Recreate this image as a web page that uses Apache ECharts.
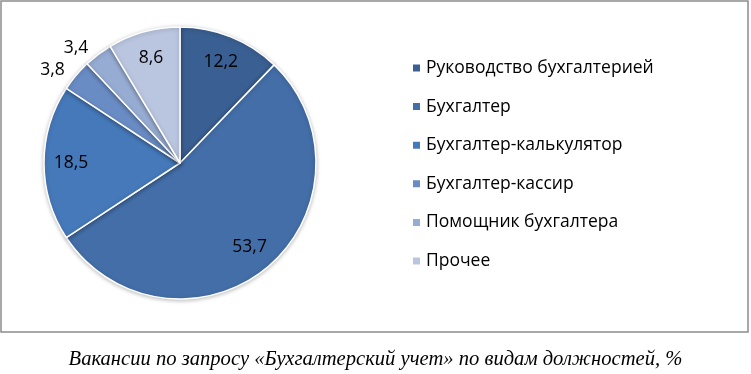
<!DOCTYPE html>
<html>
<head>
<meta charset="utf-8">
<script src="https://cdn.jsdelivr.net/npm/echarts@6/dist/echarts.min.js"></script>
<style>
  html, body { margin: 0; padding: 0; background: #fff; }
  #chart { width: 751px; height: 374px; }
</style>
</head>
<body>
<div id="chart"></div>
<script>
const categories = ['Руководство бухгалтерией', 'Бухгалтер', 'Бухгалтер-калькулятор', 'Бухгалтер-кассир', 'Помощник бухгалтера', 'Прочее'];
const values = [12.2, 53.7, 18.5, 3.8, 3.4, 8.6];
const colors = ['#3a5f92', '#436ea8', '#4679ba', '#6a8cc4', '#97acd3', '#bac6e0'];
const caption = 'Вакансии по запросу «Бухгалтерский учет» по видам должностей, %';

const fmt = v => String(v).replace('.', ',');

// small slices get their label outside the pie, like in the original
const pieData = categories.map((name, i) => ({
  name: name,
  value: values[i],
  itemStyle: { color: colors[i] }
}));
const labelData = categories.map((name, i) => ({
  name: name,
  value: values[i],
  label: values[i] < 5 ? { position: 'outside' } : { position: 'inside' }
}));

const chart = echarts.init(document.getElementById('chart'));
chart.setOption({
  animation: false,
  title: {
    text: caption,
    left: 'center',
    top: 344,
    textStyle: {
      fontFamily: 'Liberation Serif',
      fontStyle: 'italic',
      fontWeight: 'normal',
      fontSize: 20.6,
      color: '#000'
    }
  },
  graphic: [{
    type: 'rect',
    shape: { x: 1, y: 1, width: 747, height: 331 },
    style: { fill: 'none', stroke: '#8c8c8c', lineWidth: 1.5 },
    silent: true
  }],
  legend: {
    orient: 'vertical',
    left: 406,
    top: 54,
    data: categories,
    icon: 'rect',
    itemWidth: 9,
    itemHeight: 9,
    itemGap: 20.6,
    textStyle: {
      fontFamily: 'Open Sans',
      fontSize: 17.5,
      lineHeight: 18,
      color: '#000'
    }
  },
  series: [
    {
      type: 'pie',
      center: [180, 163],
      radius: [0, 136],
      startAngle: 90,
      clockwise: true,
      data: pieData,
      label: { show: false },
      labelLine: { show: false },
      itemStyle: {
        borderColor: '#fff',
        borderWidth: 1.5,
        shadowBlur: 4,
        shadowColor: 'rgba(0,0,0,0.25)',
        shadowOffsetY: 1
      },
      silent: true
    },
    {
      type: 'pie',
      center: [180, 163],
      radius: [76, 136],
      startAngle: 90,
      clockwise: true,
      data: labelData,
      itemStyle: { color: 'rgba(0,0,0,0)' },
      label: {
        show: true,
        formatter: p => fmt(p.value),
        fontFamily: 'Open Sans',
        fontSize: 17.5,
        color: '#000'
      },
      labelLine: { show: false, length: 8, length2: 0 },
      silent: true
    }
  ]
});
</script>
</body>
</html>
